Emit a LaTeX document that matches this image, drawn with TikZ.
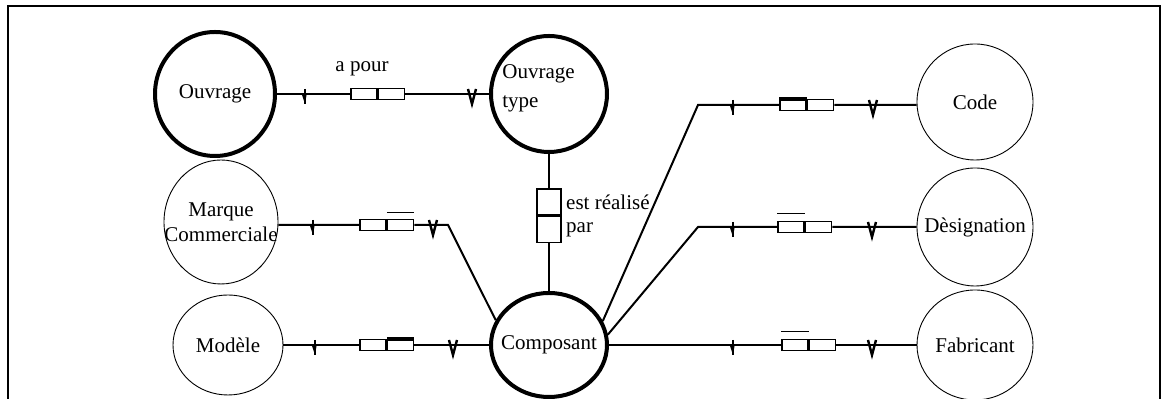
\documentclass[tikz,border=0pt]{standalone}
\usepackage{fontspec}
\setmainfont{Liberation Serif}
\usetikzlibrary{shapes.geometric, positioning}

% cardinality marks on a link (x, y in pixels)
\newcommand{\tickone}[2]{%
  \draw[line width=1pt] (#1,#2-5) -- (#1,#2+10);
  \fill (#1-3,#2+1) -- (#1,#2+10) -- (#1+1.5,#2+1) -- cycle;}
\newcommand{\tickvee}[2]{%
  \draw[line width=1.2pt, line join=miter] (#1-4,#2-5) -- (#1,#2+10) -- (#1+4,#2-5);}

\begin{document}
\begin{tikzpicture}[x=0.5pt, y=-0.5pt,
    font=\fontsize{10.5}{12.6}\selectfont,
    ent/.style={ellipse, draw, line width=0.45pt, inner sep=0pt},
    entfort/.style={ellipse, draw, line width=2pt, inner sep=0pt},
    half/.style={rectangle, draw, line width=0.8pt, minimum width=13pt, minimum height=5.5pt, inner sep=0pt},
    vhalf/.style={rectangle, draw, line width=0.8pt, minimum width=12pt, minimum height=13pt, inner sep=0pt},
    link/.style={line width=1pt}]
    \useasboundingbox (0,0) rectangle (1164,399);
    % cadre
    \draw[line width=0.9pt] (8,399) -- (8,6) -- (1160,6) -- (1160,399);

    % entites (texte en label pour garder la taille)
    \node[entfort, minimum width=60pt, minimum height=62pt, label=center:Ouvrage] (ouvrage) at (215,94) {};
    \node[entfort, minimum width=58pt, minimum height=58pt] (otype) at (549,94) {};
    \node[align=left, anchor=west, inner sep=0pt] at (502,88) {Ouvrage\\[2pt]type};
    \node[ent, minimum width=57pt, minimum height=62pt, label={[align=center]center:Marque\\Commerciale}] (marque) at (221,222) {};
    \node[ent, minimum width=55pt, minimum height=50pt, label=center:Modèle] (modele) at (228,345) {};
    \node[entfort, minimum width=58pt, minimum height=52pt, label=center:Composant] (composant) at (549,345) {};
    \node[ent, minimum width=58pt, minimum height=58pt, label=center:Code] (code) at (975,102) {};
    \node[ent, minimum width=58pt, minimum height=59pt, label=center:Dèsignation] (design) at (975,227) {};
    \node[ent, minimum width=58pt, minimum height=55pt, label=center:Fabricant] (fabric) at (975,345) {};

    % Ouvrage -- a pour -- Ouvrage type
    \node[half] (r1a) at (364,94) {};
    \node[half, right=0pt of r1a] (r1b) {};
    \node at (362,69) {a pour};
    \draw[link] (ouvrage) -- (r1a) (r1b) -- (otype);
    \tickone{305}{94} \tickvee{472}{94}

    % Ouvrage type -- est realise par -- Composant
    \node[vhalf] (r0a) at (549,202) {};
    \node[vhalf, below=0pt of r0a] (r0b) {};
    \node[right=1pt of r0a, inner sep=1pt] {est réalisé};
    \node[right=1pt of r0b, inner sep=1pt] {par};
    \draw[link] (otype) -- (r0a) (r0b) -- (composant);

    % Marque Commerciale
    \coordinate (kM) at (448,225);
    \node[half] (r2a) at (373,225) {};
    \node[half, right=0pt of r2a] (r2b) {};
    \draw[line width=0.8pt] ([yshift=3pt]r2b.north west) -- ([yshift=3pt]r2b.north east);
    \draw[link] (marque.east |- r2a) -- (r2a) (r2b) -- (kM) -- (composant.155);
    \tickone{313}{225} \tickvee{433}{225}

    % Modele
    \node[half] (r3a) at (373,345) {};
    \node[half, right=0pt of r3a] (r3b) {};
    \draw[line width=2pt] (r3b.north west) -- (r3b.north east);
    \draw[link] (modele) -- (r3a) (r3b) -- (composant);
    \tickone{315}{345} \tickvee{453}{345}

    % Code
    \coordinate (kC) at (698,105);
    \node[half] (r4a) at (793,105) {};
    \node[half, right=0pt of r4a] (r4b) {};
    \draw[line width=2pt] (r4a.north west) -- (r4a.north east);
    \draw[link] (composant.24) -- (kC) -- (r4a) (r4b) -- (code.west |- r4b);
    \tickone{733}{105} \tickvee{873}{105}

    % Designation
    \coordinate (kD) at (698,227);
    \node[half] (r5a) at (791,227) {};
    \node[half, right=0pt of r5a] (r5b) {};
    \draw[line width=0.8pt] ([yshift=3.5pt]r5a.north west) -- ([yshift=3.5pt]r5a.north east);
    \draw[link] (composant.10) -- (kD) -- (r5a) (r5b) -- (design);
    \tickone{733}{227} \tickvee{872}{227}

    % Fabricant
    \node[half] (r6a) at (795,345) {};
    \node[half, right=0pt of r6a] (r6b) {};
    \draw[line width=0.8pt] ([yshift=3.5pt]r6a.north west) -- ([yshift=3.5pt]r6a.north east);
    \draw[link] (composant) -- (r6a) (r6b) -- (fabric);
    \tickone{733}{345} \tickvee{872}{345}
\end{tikzpicture}
\end{document}
